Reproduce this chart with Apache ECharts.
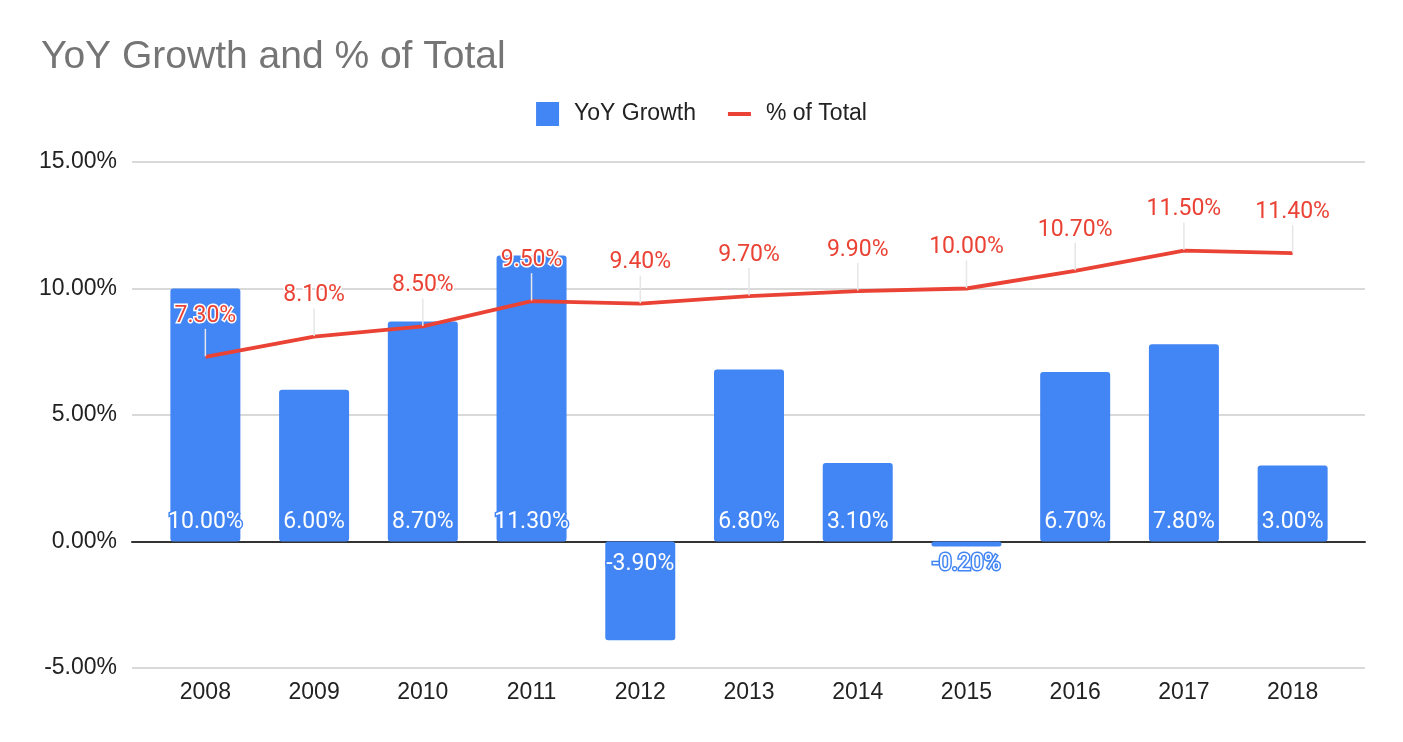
<!DOCTYPE html>
<html>
<head>
<meta charset="utf-8">
<title>YoY Growth and % of Total</title>
<script src="https://cdn.jsdelivr.net/npm/echarts@6/dist/echarts.min.js"></script>
<style>
	html, body { margin: 0; padding: 0; background: #fff; }
	#chart { width: 1403px; height: 742px; }
</style>
</head>
<body>
<div id="chart"></div>
<script>
// 数据
var years = ['2008', '2009', '2010', '2011', '2012', '2013', '2014', '2015', '2016', '2017', '2018'];
var yoyGrowth = [10.0, 6.0, 8.7, 11.3, -3.9, 6.8, 3.1, -0.2, 6.7, 7.8, 3.0];
var pctOfTotal = [7.3, 8.1, 8.5, 9.5, 9.4, 9.7, 9.9, 10.0, 10.7, 11.5, 11.4];

var blue = '#4285f4';
var red = '#ea4335';
var axisFont = 'Arial, "Liberation Sans", sans-serif';
var labelFont = 'Roboto, Arial, sans-serif';

function pct(v) {
	return v.toFixed(2) + '%';
}

// 柱子标签贴在零线一侧
var barData = yoyGrowth.map(function (v) {
	return {
		value: v,
		label: {
			position: v < 0 ? 'insideTop' : 'insideBottom',
			distance: v < 0 ? 11 : 8
		}
	};
});

var chart = echarts.init(document.getElementById('chart'));

var option = {
	backgroundColor: '#fff',
	animation: false,
	title: {
		text: 'YoY Growth and % of Total',
		left: 36,
		top: 33,
		textStyle: {
			color: '#757575',
			fontWeight: 'normal',
			fontSize: 39,
			fontFamily: axisFont
		}
	},
	legend: {
		top: 97,
		left: 'center',
		itemGap: 32,
		itemWidth: 23,
		itemHeight: 24,
		textStyle: {
			color: '#222',
			fontSize: 23,
			fontFamily: axisFont,
			padding: [0, 0, 0, 10]
		},
		data: [
			{ name: 'YoY Growth', icon: 'path://M0,0 L23,0 L23,24 L0,24 Z', itemStyle: { color: blue, opacity: 1 } },
			{ name: '% of Total', icon: 'path://M0,0 L0,0.01 M0,10 L23,10 L23,14 L0,14 Z M0,24 L0,23.99', itemStyle: { color: red, opacity: 1 } }
		]
	},
	// 0: 网格线，1: 数据
	grid: [
		{ left: 132, right: 38, top: 162, bottom: 74 },
		{ left: 151, right: 56, top: 162, bottom: 74 }
	],
	xAxis: [
		{
			gridIndex: 0,
			type: 'value',
			min: 0,
			max: 1,
			axisLine: { show: true, onZero: true, lineStyle: { color: '#333', width: 2 } },
			axisTick: { show: false },
			axisLabel: { show: false },
			splitLine: { show: false }
		},
		{
			gridIndex: 1,
			type: 'category',
			data: years,
			axisLine: { show: false },
			axisTick: { show: false },
			axisLabel: { color: '#222', fontSize: 23, fontFamily: axisFont, margin: 13 }
		}
	],
	yAxis: [
		{
			gridIndex: 0,
			type: 'value',
			min: -5,
			max: 15,
			interval: 5,
			axisLine: { show: false },
			axisTick: { show: false },
			axisLabel: {
				color: '#222',
				fontSize: 23,
				fontFamily: axisFont,
				margin: 15,
				formatter: function (v) { return pct(v); }
			},
			splitLine: { lineStyle: { color: '#cccccc', width: 1.5 } }
		},
		{
			gridIndex: 1,
			type: 'value',
			min: -5,
			max: 15,
			interval: 5,
			axisLine: { show: false },
			axisTick: { show: false },
			axisLabel: { show: false },
			splitLine: { show: false }
		}
	],
	series: [
		{
			name: 'YoY Growth',
			type: 'bar',
			xAxisIndex: 1,
			yAxisIndex: 1,
			data: barData,
			barWidth: 70,
			itemStyle: { color: blue, borderRadius: 3 },
			label: {
				show: true,
				color: '#fff',
				fontSize: 23,
				fontFamily: labelFont,
				textBorderColor: blue,
				textBorderWidth: 3,
				formatter: function (p) { return pct(p.value); }
			},
			z: 2
		},
		{
			name: '% of Total',
			type: 'line',
			xAxisIndex: 1,
			yAxisIndex: 1,
			data: pctOfTotal,
			symbol: 'circle',
			symbolSize: 1,
			showSymbol: true,
			lineStyle: { color: red, width: 3.8 },
			itemStyle: { color: 'rgba(0,0,0,0)', borderWidth: 0 },
			label: {
				show: true,
				position: 'top',
				distance: 4,
				color: red,
				fontSize: 23,
				fontFamily: labelFont,
				textBorderColor: '#fff',
				textBorderWidth: 3,
				formatter: function (p) { return pct(p.value); }
			},
			labelLayout: { dy: -25 },
			labelLine: {
				show: true,
				lineStyle: { color: '#e6e6e6', width: 1.5 }
			},
			z: 3
		}
	]
};

chart.setOption(option);
</script>
</body>
</html>
